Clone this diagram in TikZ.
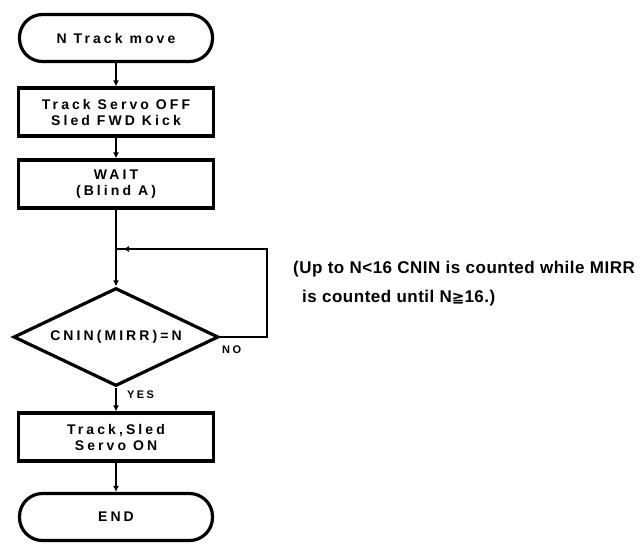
\documentclass[tikz,border=0pt]{standalone}
\usepackage{fontspec}
\setmainfont{Liberation Sans}
\newfontfamily\boxfont[LetterSpace=22]{Liberation Sans}
\newfontfamily\notefont[LetterSpace=3]{Liberation Sans}
\newfontfamily\symfont{DejaVu Sans}
\usetikzlibrary{shapes.geometric,arrows.meta}
\tikzset{
  boxtext/.style={font=\boxfont\bfseries\fontsize{14}{16}\selectfont, align=center},
  term/.style={draw, line width=3.2pt, rounded corners=23pt, minimum width=193pt, minimum height=47pt, inner sep=0pt, boxtext},
  proc/.style={draw, line width=3.2pt, minimum width=195pt, minimum height=48pt, inner sep=0pt, boxtext},
  decis/.style={draw, diamond, shape aspect=2.1, line width=3.2pt, minimum width=205pt, minimum height=98pt, inner sep=0pt, boxtext},
  conn/.style={line width=2pt, -{Latex[length=6pt,width=6pt]}},
  plain/.style={line width=2pt},
  lbl/.style={font=\boxfont\bfseries\fontsize{11}{13}\selectfont, inner sep=0pt},
  note/.style={font=\notefont\bfseries\fontsize{17}{20}\selectfont, inner sep=0pt, anchor=base west}
}
\begin{document}
\begin{tikzpicture}[x=1pt,y=-1pt]
\useasboundingbox[fill=white] (0,0) rectangle (643,544);
\node[term] (start) at (116,38) {N Track move};
\node[proc] (p1) at (116,112) {Track Servo OFF\\Sled FWD Kick};
\node[proc] (wait) at (116,184) {WAIT\\(Blind A)};
\node[decis] (dec) at (116,337) {CNIN(MIRR)=N};
\node[proc] (p2) at (116,437) {Track,Sled\\Servo ON};
\node[term] (end) at (116,517) {END};
\coordinate (j) at (116,249);
\coordinate (r1) at (267,337);
\coordinate (r2) at (267,249);
\draw[conn] (start) -- (p1);
\draw[conn] (p1) -- (wait);
\draw[conn] (wait) -- (dec);
\draw[plain] (dec.east) -- (r1) -- (r2) -- (j);
\draw[conn] (r2) -- ([xshift=7pt]j);
\draw[conn] (dec) -- (p2);
\draw[conn] (p2) -- (end);
\node[lbl, anchor=west] (no) at (222,350) {NO};
\node[lbl, anchor=west] (yes) at (127,395) {YES};
\node[note] (n1) at (293,273) {(Up to N<16 CNIN is counted while MIRR};
\node[note] (n2) at (302,302) {is counted until N{\symfont\fontsize{15}{18}\selectfont ≧}16.)};
\end{tikzpicture}
\end{document}
